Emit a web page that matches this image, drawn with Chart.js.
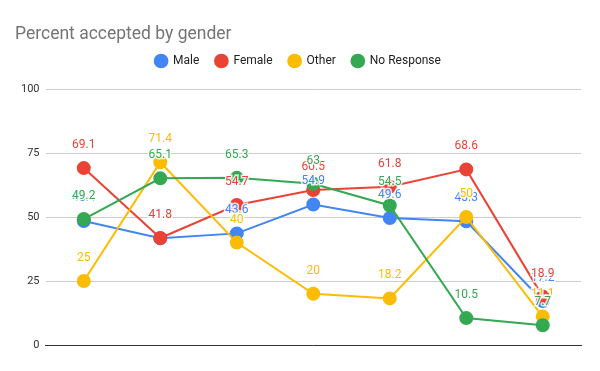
<!DOCTYPE html>
<html><head><meta charset="utf-8">
<script src="https://cdn.jsdelivr.net/npm/chart.js@4"></script>
<style>html,body{margin:0;padding:0;background:#fff}#w{width:600px;height:371px}</style>
</head><body><div id="w"><canvas id="c"></canvas></div>
<script>
const categories = ['', '', '', '', '', '', ''];
const male = [48.4, 41.7, 43.6, 54.9, 49.6, 48.3, 17.2];
const female = [69.1, 41.8, 54.7, 60.5, 61.8, 68.6, 18.9];
const other = [25, 71.4, 40, 20, 18.2, 50, 11.1];
const noResponse = [49.2, 65.1, 65.3, 63, 54.5, 10.5, 7.7];
const yTicks = [0, 25, 50, 75, 100];

const colors = ['#4285F4', '#EA4335', '#FBBC04', '#34A853'];
const names = ['Male', 'Female', 'Other', 'No Response'];
const series = [male, female, other, noResponse];

const labelPlugin = {
  id: 'pointLabels',
  afterInit(chart) {
    const lg = chart.legend;
    if (lg) {
      const orig = lg.fit;
      lg.fit = function () { orig.call(this); this.height += 12; this.bottom = this.top + this.height; };
    }
  },
  afterDatasetsDraw(chart) {
    const ctx = chart.ctx;
    ctx.save();
    ctx.font = '12px Roboto';
    ctx.textAlign = 'center';
    ctx.textBaseline = 'middle';
    chart.data.datasets.forEach((ds, i) => {
      const meta = chart.getDatasetMeta(i);
      meta.data.forEach((pt, j) => {
        const t = String(ds.data[j]);
        ctx.lineWidth = 3;
        ctx.strokeStyle = 'rgba(255,255,255,0.85)';
        ctx.strokeText(t, pt.x, pt.y - 23);
        ctx.fillStyle = ds.borderColor;
        ctx.fillText(t, pt.x, pt.y - 23);
      });
    });
    ctx.restore();
  }
};

new Chart(document.getElementById('c'), {
  type: 'line',
  data: {
    labels: categories,
    datasets: series.map((d, i) => ({
      label: names[i], data: d, borderColor: colors[i], backgroundColor: colors[i],
      pointBackgroundColor: colors[i], pointBorderColor: colors[i],
      borderWidth: 2, pointRadius: 6, tension: 0, order: 4 - i
    }))
  },
  options: {
    responsive: true, maintainAspectRatio: false, animation: false,
    layout: { padding: { left: 15, right: 19, top: 0, bottom: 26 } },
    plugins: {
      title: { display: true, text: 'Percent accepted by gender', align: 'start',
        color: '#757575', font: { family: 'Roboto', size: 17.5, weight: 'normal' }, padding: { top: 24, bottom: -6 } },
      legend: { labels: { usePointStyle: true, pointStyle: 'circle', boxWidth: 12, boxHeight: 9,
        sort: (a, b) => a.datasetIndex - b.datasetIndex,
        color: '#222', font: { family: 'Roboto', size: 12 }, padding: 16 } },
      tooltip: { enabled: false }
    },
    scales: {
      x: { offset: true, grid: { display: false, drawTicks: false }, ticks: { display: false }, border: { color: '#333' } },
      y: { min: 0, max: 100, afterBuildTicks: a => { a.ticks = yTicks.map(v => ({ value: v })); },
        grid: { color: '#ccc', drawTicks: false }, border: { display: false },
        ticks: { color: '#333', font: { family: 'Roboto', size: 11 }, padding: 6 } }
    }
  },
  plugins: [labelPlugin]
});
</script></body></html>
